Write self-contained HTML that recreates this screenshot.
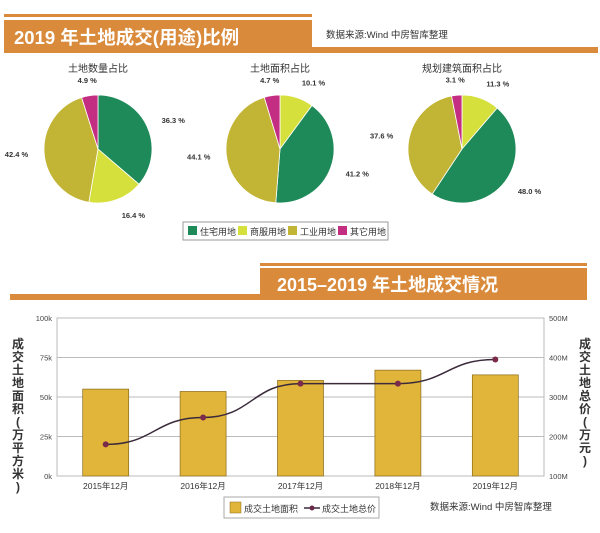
<!DOCTYPE html>
<html><head><meta charset="utf-8"><style>
body{margin:0;width:600px;height:528px;background:#fff;overflow:hidden;font-family:"Liberation Sans","Noto Sans CJK SC",sans-serif}
svg text{font-family:"Liberation Sans","Noto Sans CJK SC",sans-serif}
</style></head><body>
<svg width="600" height="528">
<g>
<rect x="4" y="14" width="308" height="3" fill="#d98a3a"/>
<rect x="4" y="20" width="308" height="33" fill="#d98a3a"/>
<rect x="312" y="47" width="286" height="6" fill="#d98a3a"/>
<text x="14" y="44" font-size="18.5" font-weight="bold" fill="#fff">2019 年土地成交(用途)比例</text>
<text x="326" y="38" font-size="9.5" fill="#333">数据来源:Wind  中房智库整理</text>
</g>
<g id="pies"></g>
<g>
<rect x="183" y="222" width="205" height="18" fill="#fff" stroke="#999"/>
<rect x="188" y="226" width="9" height="9" fill="#1e8a5a"/><text x="200" y="235" font-size="9" fill="#333">住宅用地</text>
<rect x="238" y="226" width="9" height="9" fill="#d6e03c"/><text x="250" y="235" font-size="9" fill="#333">商服用地</text>
<rect x="288" y="226" width="9" height="9" fill="#c2b434"/><text x="300" y="235" font-size="9" fill="#333">工业用地</text>
<rect x="338" y="226" width="9" height="9" fill="#c42e82"/><text x="350" y="235" font-size="9" fill="#333">其它用地</text>
</g>
<g>
<rect x="260" y="263" width="327" height="3" fill="#d98a3a"/>
<rect x="260" y="268" width="327" height="32" fill="#d98a3a"/>
<rect x="10" y="294" width="250" height="6" fill="#d98a3a"/>
<text x="277" y="291" font-size="18" font-weight="bold" fill="#fff">2015–2019 年土地成交情况</text>
</g>
<g id="bar"></g>
<g>
<rect x="224" y="497" width="155" height="21" fill="#fff" stroke="#aaa"/>
<rect x="230" y="502" width="11" height="11" fill="#e0b53a" stroke="#8a6a1a" stroke-width="0.5"/>
<text x="244" y="512" font-size="9" fill="#333">成交土地面积</text>
<line x1="304" y1="508" x2="320" y2="508" stroke="#3a2a3a" stroke-width="1.5"/><circle cx="312" cy="508" r="2.5" fill="#6a2a4a"/>
<text x="322" y="512" font-size="9" fill="#333">成交土地总价</text>
</g>
<text x="430" y="510" font-size="9.5" fill="#333">数据来源:Wind  中房智库整理</text>
</svg>
<script>
const NS='http://www.w3.org/2000/svg';
function mk(p,t,a){const e=document.createElementNS(NS,t);for(const k in a)e.setAttribute(k,a[k]);p.appendChild(e);return e;}
const colors={res:'#1e8a5a',com:'#d6e03c',ind:'#c2b434',oth:'#c42e82'};
const pieTitles=['土地数量占比','土地面积占比','规划建筑面积占比'];
const pie1Keys=['res','com','ind','oth'];const pie1Vals=[36.3,16.4,42.4,4.9];
const pie2Keys=['com','res','ind','oth'];const pie2Vals=[10.1,41.2,44.1,4.7];
const pie3Keys=['com','res','ind','oth'];const pie3Vals=[11.3,48.0,37.6,3.1];
const pies=document.getElementById('pies');
[[pie1Keys,pie1Vals],[pie2Keys,pie2Vals],[pie3Keys,pie3Vals]].forEach((pd,i)=>{
  const cx=[98,280,462][i],cy=149,r=54;
  const g=mk(pies,'g',{});
  
  
  const t=mk(g,'text',{x:cx,y:72,'text-anchor':'middle','font-size':10,fill:'#333','font-family':'"Liberation Serif","Noto Serif CJK SC",serif'});t.textContent=pieTitles[i];
  const tot=pd[1].reduce((a,b)=>a+b,0);let a0=0;
  pd[1].forEach((v,j)=>{
    const a1=a0+v/tot*2*Math.PI;
    const x0=cx+r*Math.sin(a0),y0=cy-r*Math.cos(a0),x1=cx+r*Math.sin(a1),y1=cy-r*Math.cos(a1);
    const p=mk(g,'path',{d:`M${cx},${cy}L${x0},${y0}A${r},${r} 0 ${a1-a0>Math.PI?1:0} 1 ${x1},${y1}Z`,fill:colors[pd[0][j]],stroke:'#fff','stroke-width':0.8});
    
    
    const am=(a0+a1)/2,lr=r+16;
    const lx=cx+lr*Math.sin(am),ly=cy-lr*Math.cos(am);
    const lt=mk(g,'text',{x:lx,y:ly+3,'text-anchor':Math.sin(am)>0.2?'start':(Math.sin(am)<-0.2?'end':'middle'),'font-size':7.5,'font-weight':'bold',fill:'#333'});
    lt.textContent=v.toFixed(1)+' %';
    a0=a1;
  });
});
const years=['2015年12月','2016年12月','2017年12月','2018年12月','2019年12月'];
const areaVals=[55,53.5,60.5,67,64];
const priceVals=[180,248,334,334,395];
const leftTicks=['0k','25k','50k','75k','100k'];
const rightTicks=['100M','200M','300M','400M','500M'];
const L=57,R=544,T=318,B=476;
const bg=document.getElementById('bar');
const yL=v=>B-(v/100)*(B-T);
const yR=v=>B-((v-100)/400)*(B-T);
const xC=i=>L+(R-L)*(i+0.5)/years.length;
mk(bg,'rect',{x:L,y:T,width:R-L,height:B-T,fill:'#fff',stroke:'#bbb'});
leftTicks.forEach((t,i)=>{const y=B-i*(B-T)/4;
  mk(bg,'line',{x1:L,y1:y,x2:R,y2:y,stroke:'#bbb'});
  const a=mk(bg,'text',{x:L-5,y:y+3,'text-anchor':'end','font-size':7.5,fill:'#444'});a.textContent=t;
  const b=mk(bg,'text',{x:R+5,y:y+3,'font-size':7.5,fill:'#444'});b.textContent=rightTicks[i];});
years.forEach((yr,i)=>{
  const r=mk(bg,'rect',{x:xC(i)-23,y:yL(areaVals[i]),width:46,height:B-yL(areaVals[i]),fill:'#e0b53a',stroke:'#8a6a1a','stroke-width':0.7});
  
  
  const t=mk(bg,'text',{x:xC(i),y:B+13,'text-anchor':'middle','font-size':8.5,fill:'#333'});t.textContent=yr;
});
let d='';const pts=priceVals.map((v,i)=>[xC(i),yR(v)]);
pts.forEach((p,i)=>{if(i==0)d=`M${p[0]},${p[1]}`;else{const q=pts[i-1],mx=(q[0]+p[0])/2;d+=`C${mx},${q[1]} ${mx},${p[1]} ${p[0]},${p[1]}`;}});
const ln=mk(bg,'path',{d:d,fill:'none',stroke:'#3a2a3a','stroke-width':1.5});


pts.forEach((p,i)=>{const c=mk(bg,'circle',{cx:p[0],cy:p[1],r:3,fill:'#7a2a4a'});
  
  });
function vt(x,s,nm){const g=mk(bg,'g',{});
  [...s].forEach((ch,i)=>{const t=mk(g,'text',{x:x,y:348+i*13,'text-anchor':'middle','font-size':12,'font-weight':'bold',fill:'#333'});t.textContent=ch;});}
vt(18,'成交土地面积(万平方米)','y-axis-left-title');
vt(585,'成交土地总价(万元)','y-axis-right-title');
</script>
</body></html>
